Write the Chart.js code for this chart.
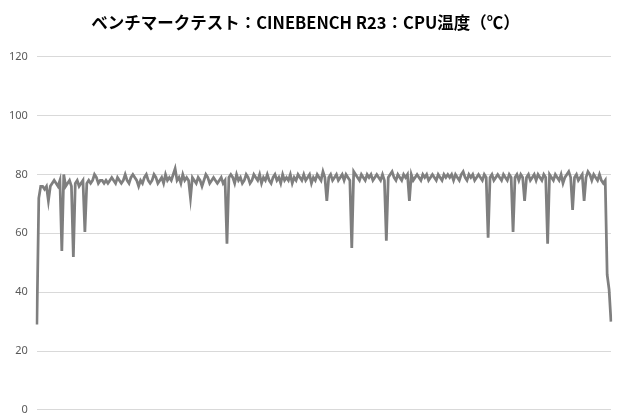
<!DOCTYPE html>
<html>
<head>
<meta charset="utf-8">
<script src="https://cdn.jsdelivr.net/npm/chart.js@4"></script>
<style>
  html, body { margin: 0; padding: 0; background: #fff; }
  #wrap { width: 620px; height: 420px; }
</style>
</head>
<body>
<div id="wrap"><canvas id="tempChart"></canvas></div>
<script>
// CPU temperature samples
const temps = [
  29,72,76,76,75,76,71,76,77,78,77,76,78,54,80,76,77,78,76,52,
  77,78,76,77,78,60.5,77,78,77,78,80,79,77,78,78,77,78,77,78,79,
  78,77,79,78,77,78,80,78,77,79,80,79,78,76,78,77,79,80,78,77,
  78,80,79,77,78,79,77,80,78,79,78,80,82,78,79,77,80,78,79,78,
  72,79,78,77,79,78,76,78,80,79,77,78,79,78,77,78,79,77,78,56.5,
  79,80,79,77,80,78,79,77,78,80,79,77,78,80,79,78,80,77,79,78,
  80,78,77,79,80,78,79,77,80,78,79,78,80,77,79,78,80,79,78,80,
  78,79,80,77,79,78,80,79,78,81,79,71,79,80,78,79,80,78,79,80,
  78,80,79,78,55,81,80,79,78,80,79,78,80,79,80,78,79,80,79,78,
  80,78,57.5,79,80,81,79,78,80,79,78,80,79,80,71,80,78,79,80,79,
  78,80,79,80,78,79,80,79,78,80,79,78,80,79,80,79,80,78,80,79,
  78,80,81,79,78,80,79,80,78,79,80,79,78,80,79,58.5,79,80,78,79,
  80,79,78,80,79,78,80,79,60.5,79,80,78,80,79,71,79,80,78,79,80,
  78,80,79,78,80,79,56.5,80,79,78,80,79,78,80,77,79,80,81,79,68,
  79,80,78,79,80,71,79,81,80,78,80,79,78,80,78,77,78,46,41,30
];
const samples = temps.map((v, i) => i + 1);
const yTicks = [0, 20, 40, 60, 80, 100, 120];

const titleText = 'ベンチマークテスト：CINEBENCH R23：CPU温度（℃）';

const ctx = document.getElementById('tempChart');
new Chart(ctx, {
  type: 'line',
  data: {
    labels: samples,
    datasets: [{
      label: 'CPU温度',
      data: temps,
      borderColor: '#7f7f7f',
      borderWidth: 2.75,
      pointRadius: 0,
      tension: 0,
      fill: false
    }]
  },
  options: {
    responsive: true,
    maintainAspectRatio: false,
    animation: false,
    layout: { padding: { left: 0, right: 9, bottom: 8, top: 0 } },
    plugins: {
      legend: { display: false },
      tooltip: { enabled: false },
      title: {
        display: true,
        text: titleText,
        color: '#000',
        font: { family: '"Noto Sans CJK JP", "Noto Sans", sans-serif', size: 16.5, weight: 'bold' },
        padding: { top: 13, bottom: 24 }
      }
    },
    scales: {
      x: {
        display: false,
        offset: false
      },
      y: {
        min: 0,
        max: 120,
        afterBuildTicks: axis => { axis.ticks = yTicks.map(v => ({ value: v })); },
        border: { display: false },
        grid: { color: '#d9d9d9', lineWidth: 1, drawTicks: false },
        ticks: {
          color: '#595959',
          padding: 9,
          font: { family: '"Noto Sans", sans-serif', size: 11, lineHeight: 0.2 }
        }
      }
    }
  }
});
</script>
</body>
</html>
